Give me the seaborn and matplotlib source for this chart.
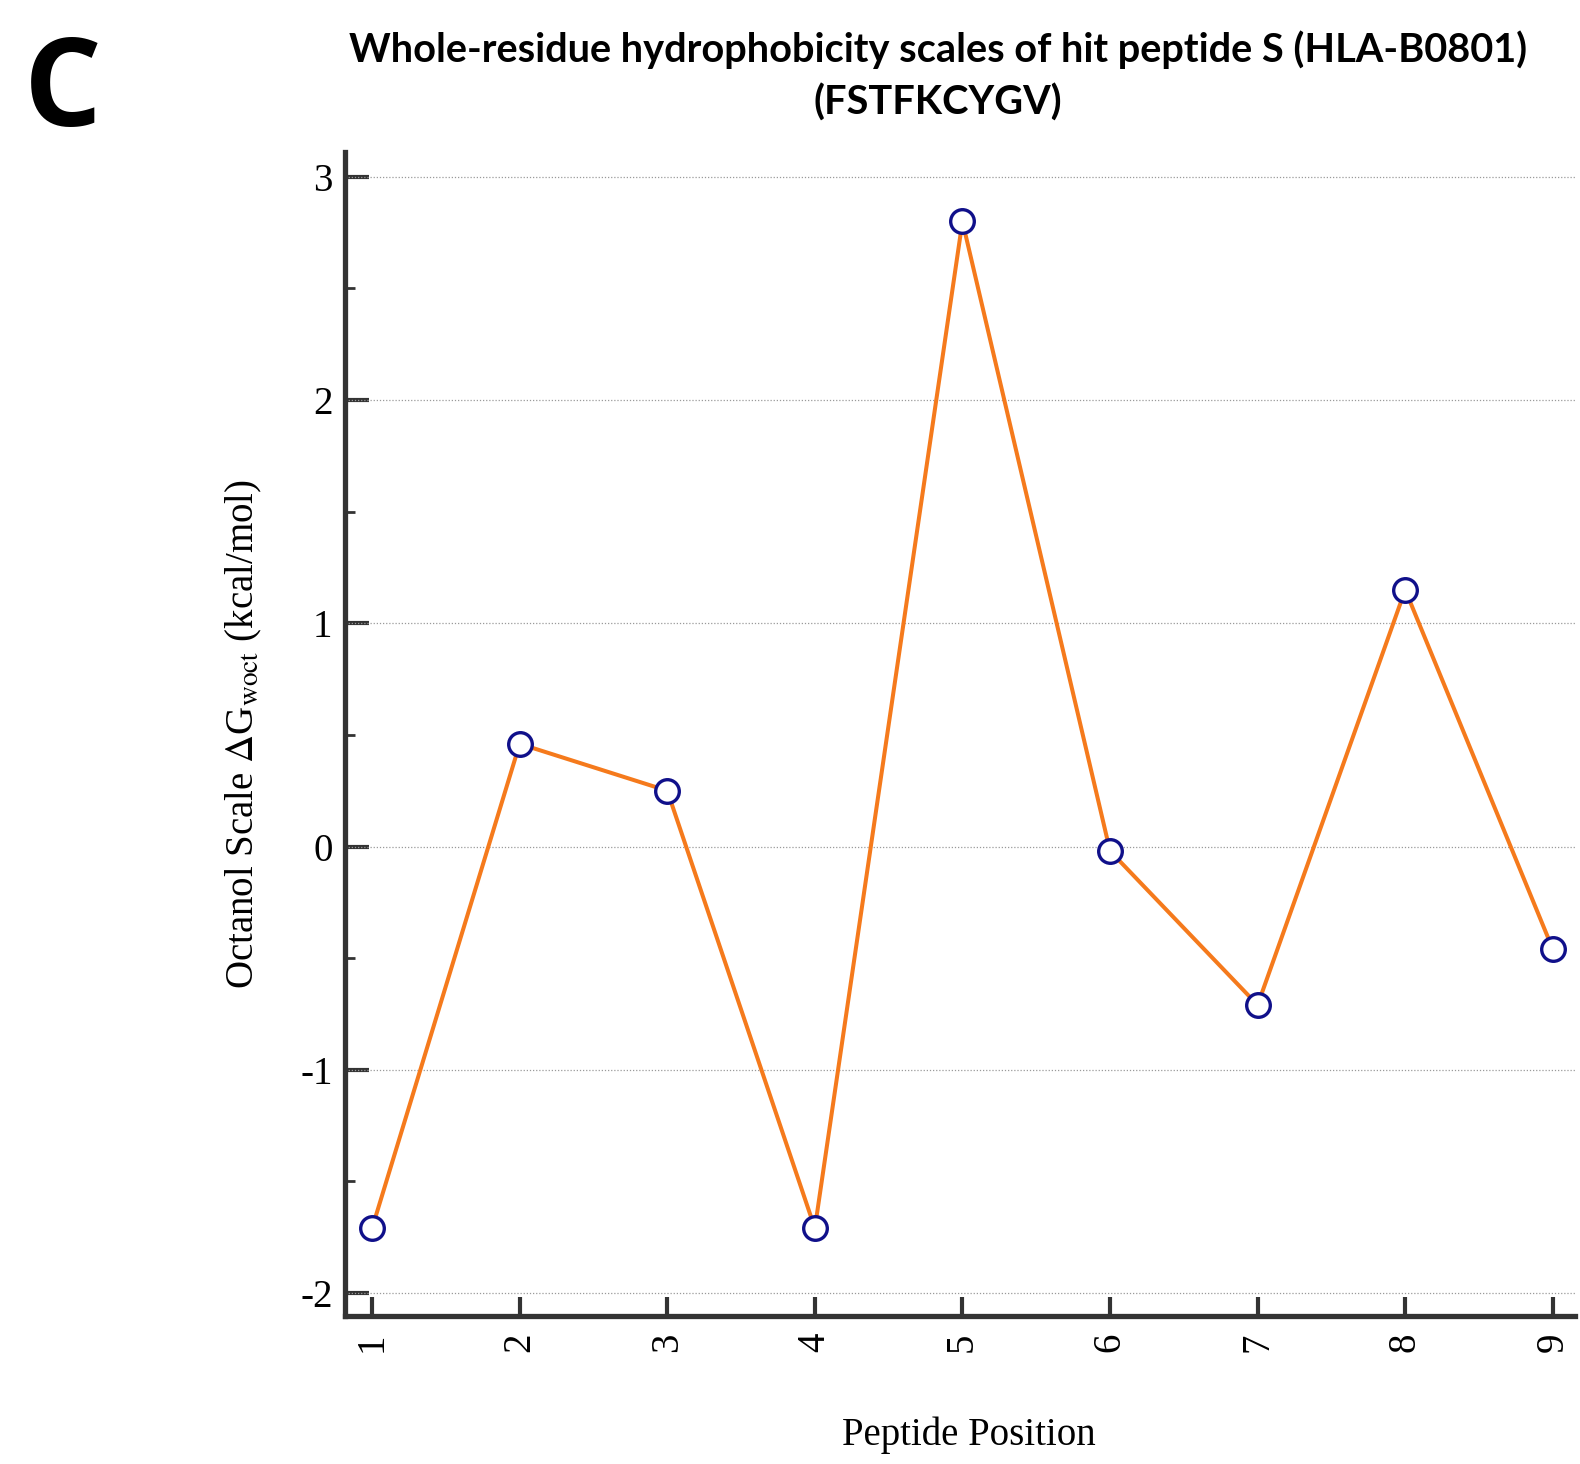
import matplotlib
matplotlib.use("Agg")
import matplotlib.pyplot as plt
import seaborn as sns
import pandas as pd
from matplotlib.ticker import MultipleLocator

# Data
positions = [1, 2, 3, 4, 5, 6, 7, 8, 9]
residues = ["F", "S", "T", "F", "K", "C", "Y", "G", "V"]
octanol_dg = [-1.71, 0.46, 0.25, -1.71, 2.80, -0.02, -0.71, 1.15, -0.46]
x_tick_labels = ["1", "2", "3", "4", "5", "6", "7", "8", "9"]
y_ticks = [-2, -1, 0, 1, 2, 3]

df = pd.DataFrame({"Position": positions, "dG": octanol_dg, "Residue": residues})

sns.set_theme(style="white")
plt.rcParams["font.family"] = ["Liberation Serif", "DejaVu Serif"]
plt.rcParams["mathtext.fontset"] = "stix"
plt.rcParams["text.color"] = "black"
plt.rcParams["axes.labelcolor"] = "black"
plt.rcParams["xtick.color"] = "black"
plt.rcParams["ytick.color"] = "black"

fig = plt.figure(figsize=(15.8, 14.64), dpi=100)
ax = fig.add_axes([0.2184, 0.1011, 0.7784, 0.7949])

line_color = "#f57a1c"
marker_edge = "#10108a"

sns.lineplot(data=df, x="Position", y="dG", ax=ax, color=line_color, linewidth=2.9,
             marker="o", markersize=17, markerfacecolor="white",
             markeredgecolor=marker_edge, markeredgewidth=2.4, zorder=3)

ax.set_xlim(0.817, 9.15)
ax.set_ylim(-2.103, 3.11)
ax.set_xticks(positions)
ax.set_xticklabels(x_tick_labels, rotation=90)
ax.set_yticks(y_ticks)
ax.set_yticklabels([str(v) for v in y_ticks])
ax.yaxis.set_minor_locator(MultipleLocator(0.5))

ax.grid(False)
for v in y_ticks:
    ax.axhline(v, color="#9a9a9a", linestyle=(0, (1, 1.5)), linewidth=0.9, zorder=1)

for s in ["top", "right"]:
    ax.spines[s].set_visible(False)
for s in ["left", "bottom"]:
    ax.spines[s].set_color("#333333")
    ax.spines[s].set_linewidth(3.8)

ax.tick_params(axis="y", which="major", direction="in", length=17, width=3, color="#333333",
               labelcolor="black", labelsize=28, pad=9, left=True)
ax.tick_params(axis="y", which="minor", direction="in", length=7, width=2, color="#333333", left=True)
ax.tick_params(axis="x", which="major", direction="in", length=14, width=3, color="#333333",
               labelcolor="black", labelsize=28, pad=12, bottom=True)

ax.set_xlabel("Peptide Position", fontsize=28, labelpad=46, color="black")
ax.xaxis.label.set_x(0.507)
ax.set_ylabel(r"Octanol Scale $\Delta$G$_{\rm woct}$ (kcal/mol)", fontsize=28, labelpad=26,
              color="black")

fig.text(0.5935, 0.966, "Whole-residue hydrophobicity scales of hit peptide S (HLA-B0801)",
         ha="center", va="center", fontsize=28.6, fontweight="bold", color="black",
         family=["Lato", "DejaVu Sans"])
fig.text(0.5935, 0.930, "(FSTFKCYGV)", ha="center", va="center", fontsize=28.6,
         fontweight="bold", color="black", family=["Lato", "DejaVu Sans"])
fig.text(0.040, 0.936, "C", ha="center", va="center", fontsize=88, fontweight="bold",
         color="black", family=["Open Sans", "DejaVu Sans"])

fig.savefig("out.png", dpi=100, facecolor="white")
